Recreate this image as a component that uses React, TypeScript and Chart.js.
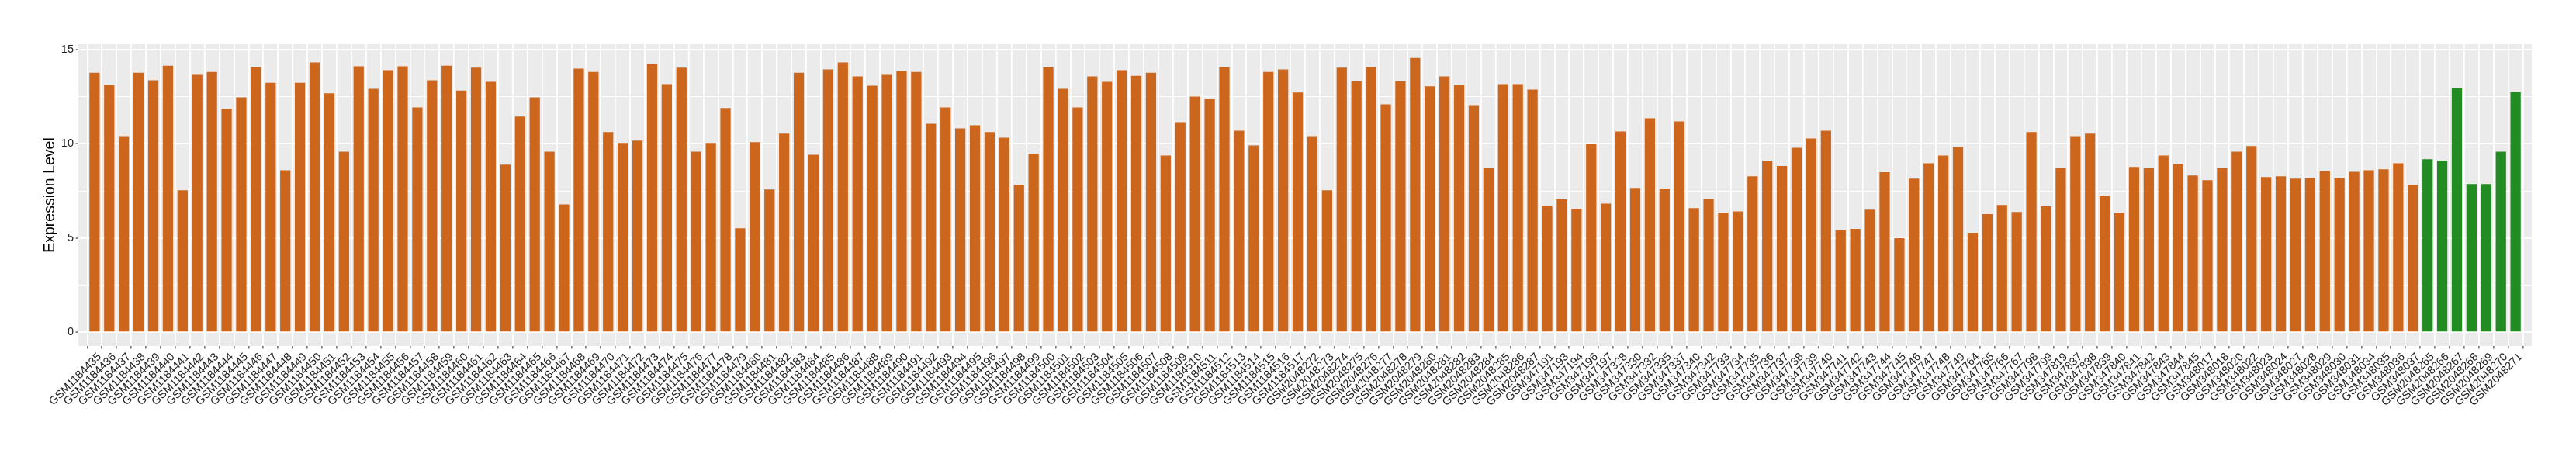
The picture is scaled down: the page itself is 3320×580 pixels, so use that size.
import React, { useEffect, useRef } from "react";
import { Chart, registerables } from "chart.js";

Chart.register(...registerables);

const samples = [
  "GSM1184435","GSM1184436","GSM1184437","GSM1184438","GSM1184439","GSM1184440","GSM1184441","GSM1184442","GSM1184443","GSM1184444",
  "GSM1184445","GSM1184446","GSM1184447","GSM1184448","GSM1184449","GSM1184450","GSM1184451","GSM1184452","GSM1184453","GSM1184454",
  "GSM1184455","GSM1184456","GSM1184457","GSM1184458","GSM1184459","GSM1184460","GSM1184461","GSM1184462","GSM1184463","GSM1184464",
  "GSM1184465","GSM1184466","GSM1184467","GSM1184468","GSM1184469","GSM1184470","GSM1184471","GSM1184472","GSM1184473","GSM1184474",
  "GSM1184475","GSM1184476","GSM1184477","GSM1184478","GSM1184479","GSM1184480","GSM1184481","GSM1184482","GSM1184483","GSM1184484",
  "GSM1184485","GSM1184486","GSM1184487","GSM1184488","GSM1184489","GSM1184490","GSM1184491","GSM1184492","GSM1184493","GSM1184494",
  "GSM1184495","GSM1184496","GSM1184497","GSM1184498","GSM1184499","GSM1184500","GSM1184501","GSM1184502","GSM1184503","GSM1184504",
  "GSM1184505","GSM1184506","GSM1184507","GSM1184508","GSM1184509","GSM1184510","GSM1184511","GSM1184512","GSM1184513","GSM1184514",
  "GSM1184515","GSM1184516","GSM1184517",
  "GSM2048272","GSM2048273","GSM2048274","GSM2048275","GSM2048276","GSM2048277","GSM2048278","GSM2048279","GSM2048280","GSM2048281",
  "GSM2048282","GSM2048283","GSM2048284","GSM2048285","GSM2048286","GSM2048287",
  "GSM347191","GSM347193","GSM347194","GSM347196","GSM347197",
  "GSM347328","GSM347330","GSM347332","GSM347335","GSM347337","GSM347340","GSM347342",
  "GSM347733","GSM347734","GSM347735","GSM347736","GSM347737","GSM347738","GSM347739","GSM347740","GSM347741","GSM347742",
  "GSM347743","GSM347744","GSM347745","GSM347746","GSM347747","GSM347748","GSM347749",
  "GSM347764","GSM347765","GSM347766","GSM347767",
  "GSM347798","GSM347799","GSM347819",
  "GSM347837","GSM347838","GSM347839","GSM347840","GSM347841","GSM347842","GSM347843","GSM347844","GSM347845",
  "GSM348017","GSM348018","GSM348020","GSM348022","GSM348023","GSM348024","GSM348027","GSM348028","GSM348029","GSM348030",
  "GSM348031","GSM348034","GSM348035","GSM348036","GSM348037",
  "GSM2048265","GSM2048266","GSM2048267","GSM2048268","GSM2048269","GSM2048270","GSM2048271",
];

const expression = [
  13.78, 13.13, 10.41, 13.78, 13.37, 14.15, 7.54, 13.66, 13.82, 11.86,
  12.47, 14.07, 13.24, 8.6, 13.24, 14.32, 12.68, 9.59, 14.11, 12.92,
  13.91, 14.11, 11.93, 13.37, 14.15, 12.83, 14.04, 13.29, 8.9, 11.45,
  12.47, 9.59, 6.79, 13.99, 13.82, 10.63, 10.05, 10.17, 14.24, 13.17,
  14.04, 9.59, 10.05, 11.9, 5.52, 10.09, 7.58, 10.54, 13.78, 9.42,
  13.95, 14.32, 13.58, 13.09, 13.66, 13.87, 13.82, 11.07, 11.93, 10.82,
  10.99, 10.63, 10.33, 7.83, 9.47, 14.07, 12.92, 11.93, 13.58, 13.29,
  13.91, 13.61, 13.78, 9.38, 11.15, 12.51, 12.38, 14.07, 10.7, 9.92,
  13.82, 13.95, 12.72,
  10.41, 7.54, 14.04, 13.33, 14.07, 12.1, 13.33, 14.56, 13.05, 13.58,
  13.13, 12.06, 8.73, 13.17, 13.17, 12.88,
  6.68, 7.05, 6.55, 10.0, 6.83,
  10.66, 7.66, 11.36, 7.63, 11.19, 6.59, 7.09,
  6.35, 6.42, 8.28, 9.1, 8.82, 9.79, 10.29, 10.7, 5.41, 5.49,
  6.51, 8.49, 5.0, 8.15, 8.97, 9.38, 9.83,
  5.28, 6.27, 6.76, 6.38,
  10.63, 6.68, 8.73,
  10.41, 10.54, 7.22, 6.35, 8.77, 8.73, 9.38, 8.93, 8.32,
  8.07, 8.73, 9.59, 9.88, 8.24, 8.28, 8.15, 8.19, 8.56, 8.19,
  8.52, 8.6, 8.65, 8.97, 7.83,
  9.18, 9.1, 12.96, 7.87, 7.87, 9.59, 12.76,
];

const highlightedSamples = [
  "GSM2048265","GSM2048266","GSM2048267","GSM2048268","GSM2048269","GSM2048270","GSM2048271",
];

const yMajorTicks = [0, 5, 10, 15];
const yMinorTicks = [2.5, 7.5, 12.5];
const yAxisTitle = "Expression Level";

const ORANGE = "#CD661D";
const GREEN = "#228B22";
const TEXT = "#222222";
const FONT = "'Liberation Sans', Arial, Helvetica, sans-serif";

export default function App() {
  const ref = useRef<HTMLCanvasElement | null>(null);

  useEffect(() => {
    if (!ref.current) return;
    const panelBg = {
      id: "panelBg",
      beforeDraw(chart: any) {
        const { ctx, chartArea: a } = chart;
        ctx.save();
        ctx.fillStyle = "#EBEBEB";
        ctx.fillRect(a.left, a.top, a.right - a.left, a.bottom - a.top);
        ctx.restore();
      },
    };

    const dataMax = Math.max(...expression);
    const pad = dataMax * 0.05;

    const chart = new Chart(ref.current, {
      type: "bar",
      data: {
        datasets: [
          {
            data: samples.map((s, i) => ({ x: i, y: expression[i] })),
            backgroundColor: samples.map((s) => (highlightedSamples.includes(s) ? GREEN : ORANGE)),
            barPercentage: 0.7,
            categoryPercentage: 1,
          },
        ],
      },
      options: {
        animation: false,
        responsive: false,
        devicePixelRatio: 1,
        layout: { padding: { left: 0, top: 57, right: 57, bottom: 0 } },
        plugins: { legend: { display: false }, tooltip: { enabled: false } },
        scales: {
          x: {
            type: "linear",
            min: -0.6,
            max: samples.length - 0.4,
            afterBuildTicks: (s: any) => {
              s.ticks = samples.map((_, i) => ({ value: i }));
            },
            afterFit: (s: any) => {
              s.height = 134;
            },
            ticks: {
              autoSkip: false,
              minRotation: 45,
              maxRotation: 45,
              padding: 2,
              labelOffset: 6.5,
              color: TEXT,
              font: { family: FONT, size: 14.5 },
              callback: (v: any) => samples[Math.round(v)] ?? "",
            },
            grid: {
              color: "#FFFFFF",
              lineWidth: 1.8,
              tickColor: "#333333",
              tickLength: 3.5,
              tickWidth: 1.1,
            },
            border: { display: false },
          },
          y: {
            type: "linear",
            min: -pad,
            max: dataMax + pad,
            afterBuildTicks: (s: any) => {
              s.ticks = [...yMajorTicks, ...yMinorTicks].sort((a, b) => a - b).map((v) => ({ value: v }));
            },
            afterFit: (s: any) => {
              s.width = 101;
            },
            ticks: {
              padding: 2.5,
              color: TEXT,
              font: { family: FONT, size: 14.5 },
              callback: (v: any) => (yMajorTicks.includes(v) ? String(v) : ""),
            },
            grid: {
              color: "#FFFFFF",
              lineWidth: (ctx: any) => (yMajorTicks.includes(ctx.tick?.value) ? 2.1 : 1),
              tickColor: (ctx: any) => (yMajorTicks.includes(ctx.tick?.value) ? "#333333" : "rgba(0,0,0,0)"),
              tickLength: 3.5,
              tickWidth: 1.1,
            },
            border: { display: false },
            title: {
              display: true,
              text: yAxisTitle,
              color: "#000000",
              font: { family: FONT, size: 19.5 },
              padding: { top: 53, bottom: 0 },
            },
          },
        },
      },
      plugins: [panelBg],
    } as any);

    return () => chart.destroy();
  }, []);

  return (
    <div style={{ position: "fixed", left: 0, top: 0, width: 3320, height: 580, background: "#FFFFFF" }}>
      <canvas ref={ref} width={3320} height={580} style={{ width: 3320, height: 580, display: "block" }} />
    </div>
  );
}
